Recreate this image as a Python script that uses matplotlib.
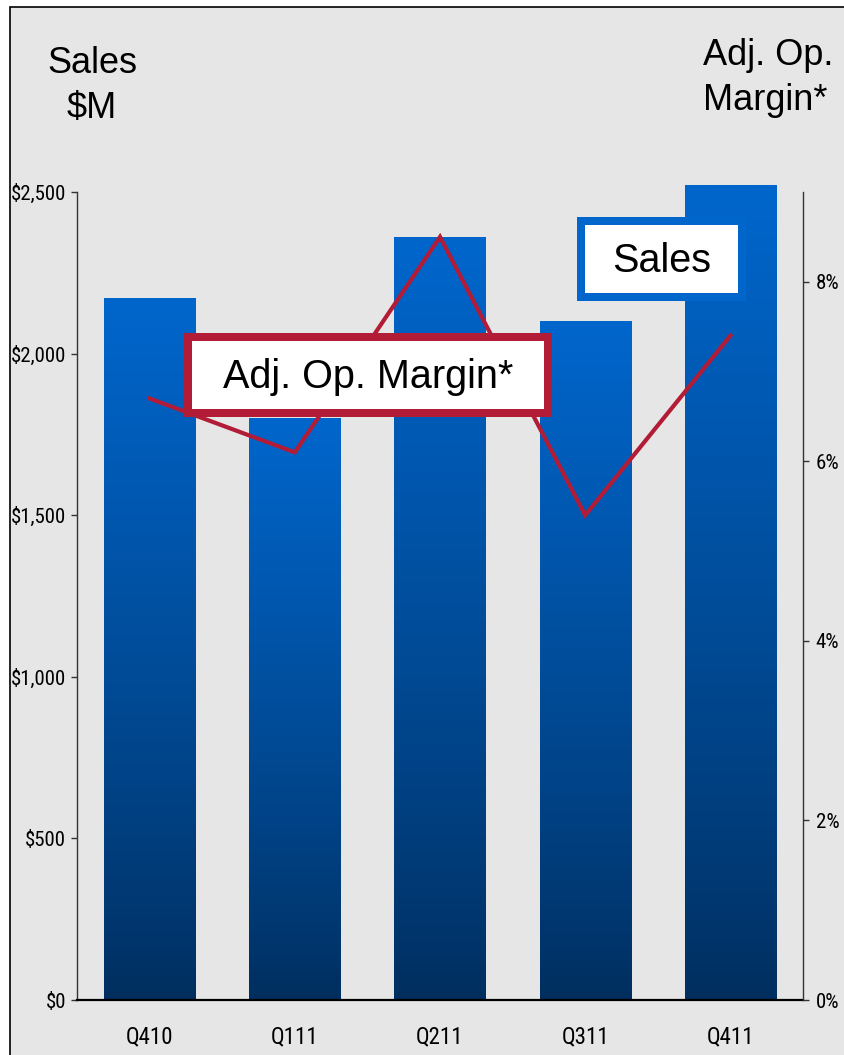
import matplotlib
matplotlib.use('Agg')
import matplotlib.pyplot as plt
import numpy as np
from matplotlib.patches import Rectangle
from matplotlib import font_manager as fm

## data
quarters = ['Q410', 'Q111', 'Q211', 'Q311', 'Q411']
sales = [2170, 1800, 2360, 2100, 2520]          # $M
adj_op_margin = [6.7, 6.1, 8.5, 5.4, 7.4]       # %

sales_ticks = [0, 500, 1000, 1500, 2000, 2500]
margin_ticks = [0, 2, 4, 6, 8]

W, H = 844, 1055
sans = ['Liberation Sans', 'Arial', 'DejaVu Sans']

## find some condensed face for the tick labels
names = sorted(set(f.name for f in fm.fontManager.ttflist))
narrow_fp = None
for cand in ['Liberation Sans Narrow', 'Roboto Condensed', 'Open Sans Condensed',
             'DejaVu Sans Condensed']:
    if cand in names:
        narrow_fp = dict(family=cand)
        break
if narrow_fp is None:
    cond = [f for f in fm.fontManager.ttflist
            if 'ondensed' in f.fname and 'Bold' not in f.fname and 'Oblique' not in f.fname
            and 'Italic' not in f.fname and 'Mono' not in f.fname and 'Serif' not in f.fname]
    if cond:
        narrow_fp = dict(fname=cond[0].fname)
    else:
        narrow_fp = dict(family='Liberation Sans')

def nfont(size):
    if 'fname' in narrow_fp:
        return fm.FontProperties(fname=narrow_fp['fname'], size=size)
    return fm.FontProperties(family=narrow_fp['family'], size=size)

bg = '#e6e6e6'
bright = np.array([0, 102, 204]) / 255.
dark = np.array([0, 46, 94]) / 255.
red = '#b21c36'

fig = plt.figure(figsize=(W / 100., H / 100.), dpi=100)
fig.patch.set_facecolor('white')

def fx(px):
    return px / float(W)

def fy(py):
    return 1 - py / float(H)

## grey slide frame, open to right/bottom
fig.patches.append(Rectangle((fx(10), fy(1070)), fx(860), 1070 / float(H) - 7 / float(H),
                             transform=fig.transFigure, facecolor=bg,
                             edgecolor='black', lw=1.2, zorder=-1))

ax = fig.add_axes([fx(77), fy(1000), fx(803 - 77), (1000 - 192) / float(H)])
ax.set_facecolor('none')

x = np.arange(len(quarters))
bw = 0.627
ramp = np.linspace(0, 1, 256) ** 0.85
for xi, v in zip(x, sales):
    cols = dark[None, :] * (1 - ramp[:, None]) + bright[None, :] * ramp[:, None]
    img = ax.imshow(cols[:, None, :], origin='lower', aspect='auto',
                    extent=(xi - bw / 2, xi + bw / 2, 0, v), zorder=2,
                    interpolation='bilinear')
    img.set_clip_on(False)

ax.set_xlim(-0.5, len(quarters) - 0.5)
ax.set_ylim(0, 2500)
ax.set_xticks(x)
ax.set_xticklabels(quarters, fontproperties=nfont(16.5))
ax.set_yticks(sales_ticks)
ax.set_yticklabels(['${:,}'.format(v) for v in sales_ticks], fontproperties=nfont(15))
ax.tick_params(axis='x', length=0, pad=18)
ax.tick_params(axis='y', length=4, width=1, direction='out', pad=4, color='#333333')
for s in ['top', 'right']:
    ax.spines[s].set_visible(False)
ax.spines['left'].set_color('#333333')
ax.spines['left'].set_linewidth(1)
ax.spines['bottom'].set_color('black')
ax.spines['bottom'].set_linewidth(1.6)
ax.spines['bottom'].set_zorder(3)

ax2 = ax.twinx()
ax2.plot(x, adj_op_margin, color=red, lw=3, solid_joinstyle='miter')
ax2.set_ylim(0, 9)
ax2.set_yticks(margin_ticks)
ax2.set_yticklabels(['{}%'.format(v) for v in margin_ticks], fontproperties=nfont(15))
ax2.tick_params(axis='y', length=4, width=1, direction='out', pad=5, color='#333333')
for s in ['top', 'left', 'bottom']:
    ax2.spines[s].set_visible(False)
ax2.spines['right'].set_color('#333333')
ax2.spines['right'].set_linewidth(1)

## axis titles
fig.text(fx(92), fy(73), 'Sales', ha='center', va='baseline', family=sans, fontsize=26)
fig.text(fx(92), fy(118), '$M', ha='center', va='baseline', family=sans, fontsize=26)
fig.text(fx(703), fy(65), 'Adj. Op.', ha='left', va='baseline', family=sans, fontsize=26)
fig.text(fx(703), fy(110), 'Margin*', ha='left', va='baseline', family=sans, fontsize=26)

## legend-style boxes
def label_box(x0, y0, x1, y1, edge, text, lw_px=8):
    half = lw_px / 2.
    fig.patches.append(Rectangle((fx(x0 + half), fy(y1 - half)),
                                 fx(x1 - x0 - lw_px), (y1 - y0 - lw_px) / float(H),
                                 transform=fig.transFigure, facecolor='white',
                                 edgecolor=edge, lw=lw_px * 0.72, zorder=4,
                                 joinstyle='miter'))
    fig.text(fx((x0 + x1) / 2.), fy((y0 + y1) / 2. + 2), text, ha='center', va='center',
             family=sans, fontsize=28.5, zorder=5)

label_box(184, 333, 552, 417, red, 'Adj. Op. Margin*')
label_box(577, 217, 746, 301, '#0066cc', 'Sales')

plt.savefig('out.png', dpi=100, facecolor=fig.get_facecolor())
plt.close(fig)
